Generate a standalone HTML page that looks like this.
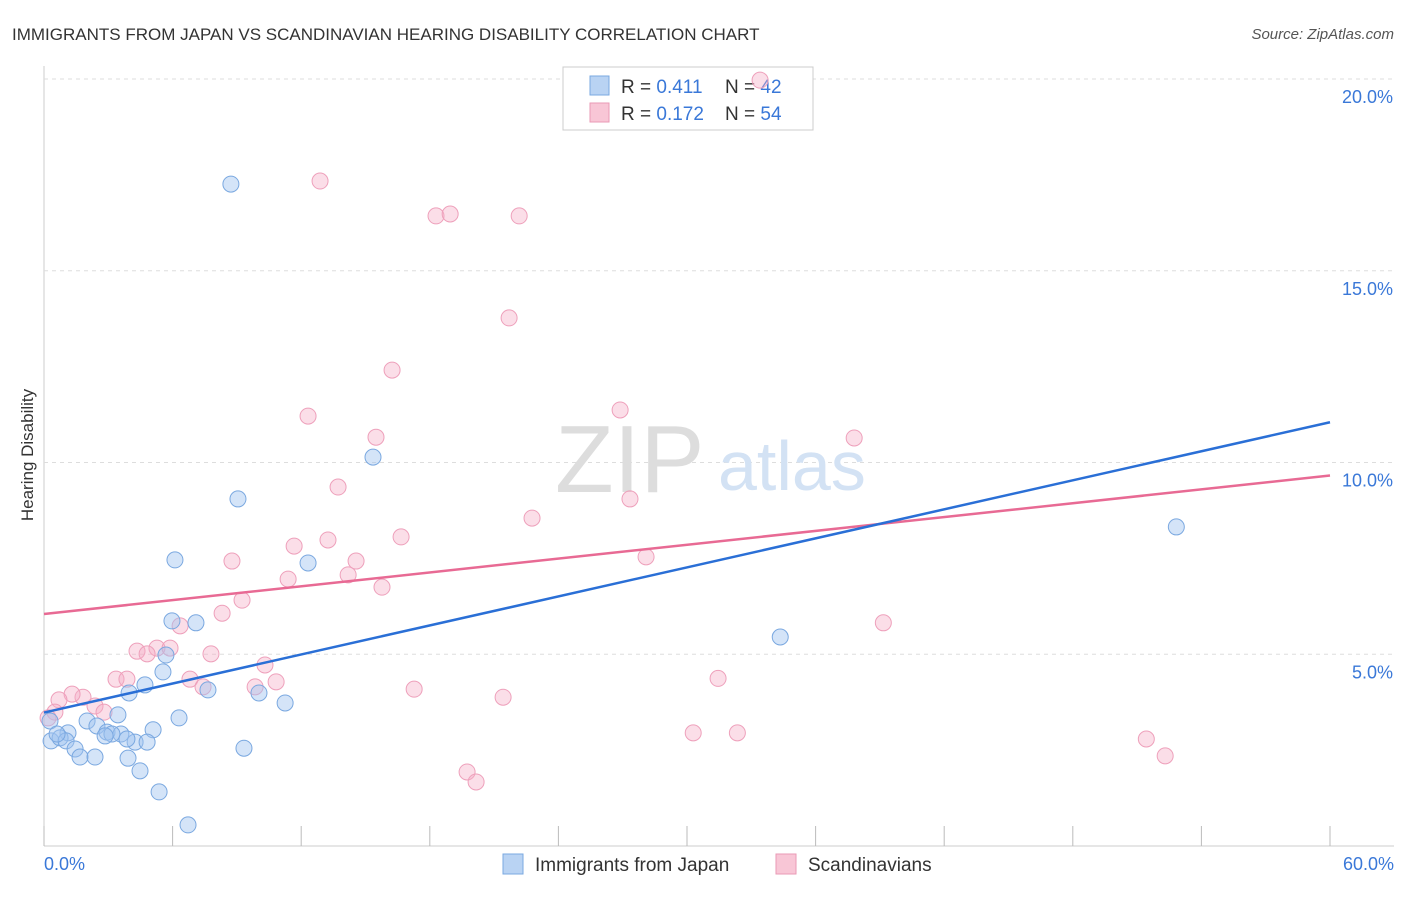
<!DOCTYPE html>
<html><head><meta charset="utf-8"><style>
body{margin:0;background:#fff;font-family:"Liberation Sans",sans-serif;}
svg text{font-family:"Liberation Sans",sans-serif;}
</style></head><body>
<svg id="chart" width="1406" height="892" xmlns="http://www.w3.org/2000/svg">
<text x="12" y="40" font-size="17" fill="#333">IMMIGRANTS FROM JAPAN VS SCANDINAVIAN HEARING DISABILITY CORRELATION CHART</text>
<text x="1394" y="39" font-size="15" fill="#555" font-style="italic" text-anchor="end">Source: ZipAtlas.com</text>
<text x="33" y="455" font-size="17" fill="#333" text-anchor="middle" transform="rotate(-90 33 455)">Hearing Disability</text>
<g id="grid"></g>
<text x="555" y="492" font-size="96" fill="#ddd" font-family="Liberation Serif">ZIP</text>
<text x="718" y="490" font-size="70" fill="#d3e2f4">atlas</text>
<rect x="563" y="67" width="250" height="63" fill="#fff" stroke="#ccc"/>
<rect x="590" y="76" width="19" height="19" fill="#b9d3f3" stroke="#7aa8e0"/>
<rect x="590" y="103" width="19" height="19" fill="#f8c6d6" stroke="#ea9ab5"/>
<text x="621" y="93" font-size="19" fill="#333">R = <tspan fill="#3a78d8">0.411</tspan></text>
<text x="725" y="93" font-size="19" fill="#333">N = <tspan fill="#3a78d8">42</tspan></text>
<text x="621" y="120" font-size="19" fill="#333">R = <tspan fill="#3a78d8">0.172</tspan></text>
<text x="725" y="120" font-size="19" fill="#333">N = <tspan fill="#3a78d8">54</tspan></text>
<g id="points"></g>
<g id="lines"></g>
<text x="44" y="870" font-size="18" fill="#3a78d8">0.0%</text>
<text x="1394" y="870" font-size="18" fill="#3a78d8" text-anchor="end">60.0%</text>
<rect x="503" y="854" width="20" height="20" fill="#b9d3f3" stroke="#7aa8e0"/>
<text x="535" y="871" font-size="19" fill="#333">Immigrants from Japan</text>
<rect x="776" y="854" width="20" height="20" fill="#f8c6d6" stroke="#ea9ab5"/>
<text x="808" y="871" font-size="19" fill="#333">Scandinavians</text>
</svg>
<script>
const yTicks=[5,10,15,20];
const yTickLabels=["5.0%","10.0%","15.0%","20.0%"];
const xTicks=[0,6,12,18,24,30,36,42,48,54,60];
const japanX=[8.72,15.35,9.05,6.11,12.32,5.97,7.09,5.69,5.55,4.71,3.97,7.65,10.03,11.25,6.30,3.45,5.09,2.01,2.47,1.12,2.94,3.59,3.17,4.25,4.81,3.87,0.33,0.75,1.03,1.45,1.68,2.38,3.92,9.33,4.48,5.37,6.72,34.35,52.83,0.28,0.61,2.85];
const japanY=[17.26,10.14,9.05,7.46,7.38,5.87,5.82,4.98,4.54,4.20,3.99,4.07,3.99,3.73,3.34,3.42,3.03,3.26,3.13,2.95,2.97,2.92,2.92,2.71,2.71,2.79,2.74,2.82,2.74,2.53,2.32,2.32,2.29,2.55,1.96,1.41,0.55,5.45,8.32,3.26,2.92,2.87];
const scanX=[33.41,12.88,18.29,18.95,22.17,21.70,16.24,26.88,12.32,15.49,37.80,13.72,27.34,22.77,13.25,16.66,11.67,8.77,14.56,28.09,14.19,11.39,15.77,9.24,8.31,6.35,39.16,5.27,4.34,5.88,4.81,7.79,10.31,6.81,3.36,3.87,7.42,9.85,10.83,17.27,31.45,21.42,1.82,1.31,0.70,2.38,2.80,0.51,0.19,30.29,32.35,51.43,52.31,19.74,20.16];
const scanY=[19.97,17.34,16.43,16.48,16.43,13.77,12.41,11.37,11.21,10.66,10.64,9.36,9.05,8.55,7.98,8.06,7.82,7.43,7.43,7.54,7.07,6.96,6.75,6.41,6.07,5.74,5.82,5.16,5.08,5.16,5.01,5.01,4.72,4.35,4.35,4.35,4.15,4.15,4.28,4.09,4.37,3.88,3.88,3.96,3.81,3.65,3.49,3.49,3.34,2.95,2.95,2.79,2.35,1.93,1.67];
const japanLine=[3.48,11.05];
const scanLine=[6.05,9.66];
const X=v=>44+v*(1286/60), Y=v=>846-v*38.35;
const NS="http://www.w3.org/2000/svg";
const grid=document.getElementById('grid');
const mk=(t,a,p)=>{const e=document.createElementNS(NS,t);for(const k in a)e.setAttribute(k,a[k]);p.appendChild(e);return e;};
const xaxis=mk('line',{x1:44,x2:1394,y1:846,y2:846,stroke:'#ccc'},grid);


const yaxis=mk('line',{x1:44,x2:44,y1:66,y2:846,stroke:'#ccc'},grid);


yTicks.forEach((v,i)=>{
 const g=mk('line',{x1:44,x2:1394,y1:Y(v),y2:Y(v),stroke:'#ddd','stroke-dasharray':'4,4'},grid);
 
 
 const t=mk('text',{x:1393,y:Y(v)+24,'font-size':18,fill:'#3a78d8','text-anchor':'end'},grid);
 t.textContent=yTickLabels[i];
 
 
});
xTicks.forEach(v=>{
 const l=mk('line',{x1:X(v),x2:X(v),y1:826,y2:846,stroke:'#bbb'},grid);
 
 
});
const pts=document.getElementById('points');
scanX.forEach((x,i)=>{
 const c=mk('circle',{cx:X(x),cy:Y(scanY[i]),r:8,fill:'rgba(244,172,198,0.4)',stroke:'#eea0bb','stroke-width':1},pts);
 
 
});
japanX.forEach((x,i)=>{
 const c=mk('circle',{cx:X(x),cy:Y(japanY[i]),r:8,fill:'rgba(160,196,240,0.45)',stroke:'#7aa8e0','stroke-width':1},pts);
 
 
});
const ln=document.getElementById('lines');
const a=mk('line',{x1:X(0),y1:Y(scanLine[0]),x2:X(60),y2:Y(scanLine[1]),stroke:'#e86a94','stroke-width':2.5},ln);


const b=mk('line',{x1:X(0),y1:Y(japanLine[0]),x2:X(60),y2:Y(japanLine[1]),stroke:'#2a6fd6','stroke-width':2.5},ln);


</script>
</body></html>
